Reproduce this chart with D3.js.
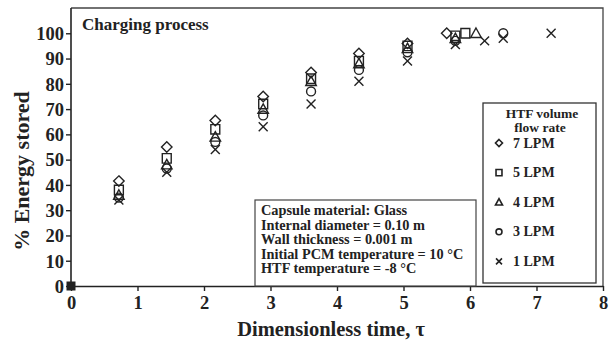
<!DOCTYPE html>
<html>
<head>
<meta charset="utf-8">
<script src="https://cdn.jsdelivr.net/npm/d3@7"></script>
<style>
  body { margin: 0; background: #fff; }
  text { font-family: "Liberation Serif", "Times New Roman", serif; font-weight: bold; fill: #222; }
</style>
</head>
<body>
<div id="chart"></div>
<script>
// data (tau, % energy stored)
const seriesNames = ['7 LPM', '5 LPM', '4 LPM', '3 LPM', '1 LPM']
const seriesShapes = ['diamond', 'square', 'triangle', 'circle', 'cross']
const lpm7 = [[0.72, 41.5], [1.44, 55], [2.17, 65.5], [2.89, 75], [3.61, 84.5], [4.33, 92], [5.06, 96], [5.65, 100]]
const lpm5 = [[0.72, 38], [1.44, 50.5], [2.17, 62], [2.89, 72], [3.61, 82], [4.33, 89], [5.06, 95], [5.78, 99], [5.93, 100]]
const lpm4 = [[0.72, 36], [1.44, 48], [2.17, 59], [2.89, 70], [3.61, 81], [4.33, 88], [5.06, 94], [5.78, 98], [6.09, 100]]
const lpm3 = [[0.72, 35], [1.44, 46.5], [2.17, 57], [2.89, 67.5], [3.61, 77], [4.33, 85.5], [5.06, 92.5], [5.78, 97], [6.5, 100]]
const lpm1 = [[0.72, 34], [1.44, 45], [2.17, 54], [2.89, 63], [3.61, 72], [4.33, 81], [5.06, 89], [5.78, 95.5], [6.22, 97], [6.5, 98], [7.22, 100]]
const origin = [[0, 0]]
const xTicks = [0, 1, 2, 3, 4, 5, 6, 7, 8]
const yTicks = [0, 10, 20, 30, 40, 50, 60, 70, 80, 90, 100]
const infoLines = [
  'Capsule material: Glass',
  'Internal diameter = 0.10 m',
  'Wall thickness = 0.001 m',
  'Initial  PCM temperature = 10 \u00B0C',
  'HTF temperature = -8 \u00B0C'
]

const allSeries = [lpm7, lpm5, lpm4, lpm3, lpm1]

const width = 614
const height = 346
const plotLeft = 71, plotRight = 603, plotTop = 8, plotBottom = 286

const svg = d3.select('#chart').append('svg').attr('width', width).attr('height', height)

const xScale = d3.scaleLinear().domain([0, 8]).range([plotLeft, plotRight])
const yScale = d3.scaleLinear().domain([0, 110]).range([plotBottom, plotTop])

// marker path for a shape, centred on 0,0
function markerPath(shape, s) {
  const h = s / 2
  if (shape === 'diamond') return `M0,${-h}L${h},0L0,${h}L${-h},0Z`
  if (shape === 'square') return `M${-h * 0.85},${-h * 0.9}H${h * 0.85}V${h * 0.9}H${-h * 0.85}Z`
  if (shape === 'triangle') return `M0,${-h}L${h},${h * 0.8}L${-h},${h * 0.8}Z`
  if (shape === 'circle') return `M${-h * 0.85},0A${h * 0.85},${h * 0.85} 0 1,0 ${h * 0.85},0A${h * 0.85},${h * 0.85} 0 1,0 ${-h * 0.85},0Z`
  return `M${-h * 0.85},${-h * 0.85}L${h * 0.85},${h * 0.85}M${h * 0.85},${-h * 0.85}L${-h * 0.85},${h * 0.85}`
}

// frame (top + right)
svg.append('path')
  .attr('d', `M${plotLeft},${plotTop}H${plotRight}V${plotBottom}`)
  .attr('fill', 'none').attr('stroke', '#444').attr('stroke-width', 1.3)

// axes
const yAxis = d3.axisLeft(yScale).tickValues(yTicks).tickSize(5).tickPadding(2).tickSizeOuter(0)
const xAxis = d3.axisBottom(xScale).tickValues(xTicks).tickSize(5).tickPadding(5).tickSizeOuter(0)

const gy = svg.append('g').attr('transform', `translate(${plotLeft},0)`).call(yAxis)
const gx = svg.append('g').attr('transform', `translate(0,${plotBottom})`).call(xAxis)

for (const g of [gx, gy]) {
  g.select('.domain').attr('stroke', '#222').attr('stroke-width', 1.6)
  g.selectAll('.tick line').attr('stroke', '#222').attr('stroke-width', 1.4)
  g.selectAll('.tick text').attr('fill', '#222').style('font-size', '18.5px')
    .style('font-family', '"Liberation Serif", serif').style('font-weight', 'bold')
}
gy.select('.domain').attr('d', `M0,${plotTop}V${plotBottom}`)
gy.selectAll('.tick text').attr('dy', '0.34em')

// axis titles
svg.append('text')
  .attr('transform', 'translate(29,171) rotate(-90)')
  .attr('text-anchor', 'middle')
  .style('font-size', '22px')
  .text('% Energy stored')

svg.append('text')
  .attr('x', 331).attr('y', 336)
  .attr('text-anchor', 'middle')
  .style('font-size', '20.5px')
  .text('Dimensionless time, \u03C4')

svg.append('text')
  .attr('x', 82).attr('y', 30)
  .style('font-size', '17px')
  .text('Charging process')

// info box
svg.append('rect')
  .attr('x', 255).attr('y', 200).attr('width', 221).attr('height', 86)
  .attr('fill', '#fff').attr('stroke', '#444').attr('stroke-width', 1.2)

svg.selectAll('.info')
  .data(infoLines)
  .enter().append('text')
  .attr('class', 'info')
  .attr('x', 261)
  .attr('y', (d, i) => 215 + i * 14.5)
  .style('font-size', '14.3px')
  .text(d => d)

// origin marker
svg.selectAll('.origin')
  .data(origin)
  .enter().append('rect')
  .attr('x', d => xScale(d[0]) - 4.5)
  .attr('y', d => yScale(d[1]) - 4.5)
  .attr('width', 9).attr('height', 9)
  .attr('fill', '#222')

// data markers
allSeries.forEach((series, i) => {
  svg.append('g').selectAll('path')
    .data(series)
    .enter().append('path')
    .attr('transform', d => `translate(${xScale(d[0])},${yScale(d[1])})`)
    .attr('d', markerPath(seriesShapes[i], 10.5))
    .attr('fill', 'none')
    .attr('stroke', '#222')
    .attr('stroke-width', 1.4)
})

// legend
const legend = svg.append('g')
legend.append('rect')
  .attr('x', 483).attr('y', 103).attr('width', 113).attr('height', 180)
  .attr('fill', '#fff').attr('stroke', '#333').attr('stroke-width', 1.3)
legend.append('text').attr('x', 542).attr('y', 118).attr('text-anchor', 'middle')
  .style('font-size', '13.5px').text('HTF volume')
legend.append('text').attr('x', 540).attr('y', 132).attr('text-anchor', 'middle')
  .style('font-size', '13.5px').text('flow rate')

seriesNames.forEach((name, i) => {
  const cy = 143 + i * 29.6
  legend.append('path')
    .attr('transform', `translate(499,${cy})`)
    .attr('d', markerPath(seriesShapes[i], 7))
    .attr('fill', 'none').attr('stroke', '#222').attr('stroke-width', 1.6)
  legend.append('text')
    .attr('x', 513).attr('y', cy + 4.5)
    .style('font-size', '14px')
    .text(name)
})
</script>
</body>
</html>
